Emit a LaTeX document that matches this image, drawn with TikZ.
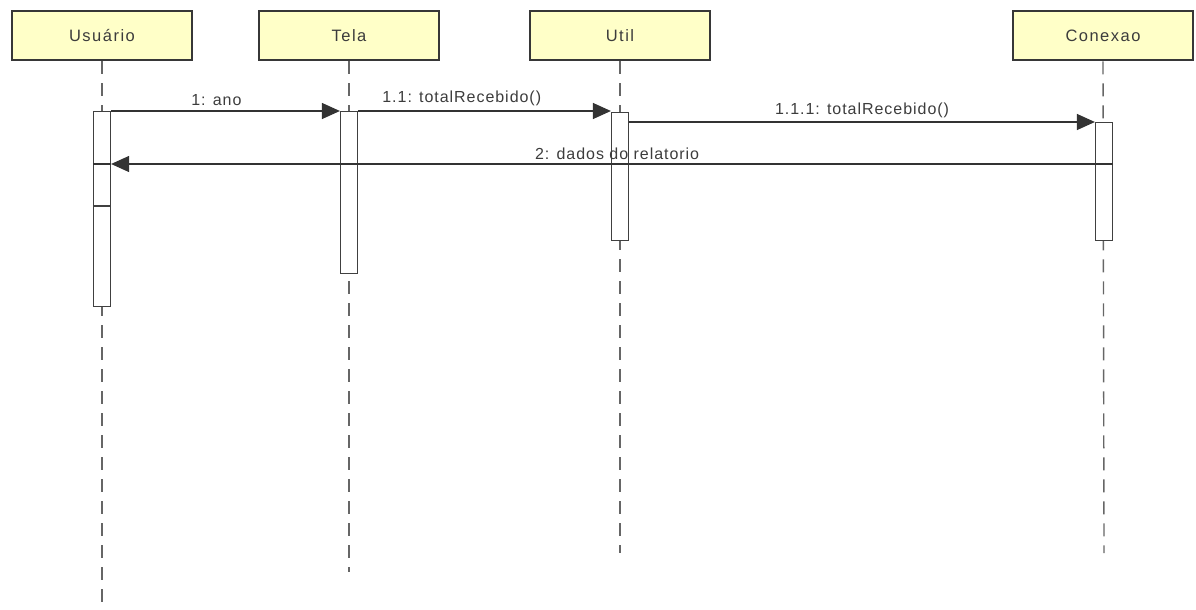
\documentclass[tikz,border=0pt]{standalone}
\usepackage{fontspec}
\setmainfont{Liberation Sans}
\newfontfamily\headfont[LetterSpace=9]{Liberation Sans}
\newfontfamily\msgfont[LetterSpace=6]{Liberation Sans}
\usepackage{xcolor}
\definecolor{headFill}{RGB}{255, 255, 200}
\definecolor{headLine}{RGB}{55, 55, 55}
\definecolor{txtColor}{RGB}{60, 60, 60}
\usepackage{tikz}
\usetikzlibrary{arrows.meta, positioning, calc}

\begin{document}
\begin{tikzpicture}[x=1pt, y=-1pt,
    head/.style={draw=headLine, line width=2.6pt, fill=headFill, minimum width=180pt,
      minimum height=49pt, font=\headfont\fontsize{16.5}{19}\selectfont, text=txtColor},
    life/.style={gray!80!black, line width=1.4pt, dash pattern=on 13pt off 9pt},
    actbar/.style={draw=black!75, line width=1.2pt, fill=white, minimum width=17pt, inner sep=0pt, anchor=north},
    msg/.style={black!80, line width=1.2pt, -{Triangle[length=18pt, width=16pt]}},
    lbl/.style={font=\msgfont\fontsize{16}{18}\selectfont, text=txtColor, inner sep=2pt}]
    \useasboundingbox (0,0) rectangle (1196,610);
    % lifeline heads
    \node[head] (usr) at (102,35.5) {Usuário};
    \node[head] (tela) at (349,35.5) {Tela};
    \node[head] (util) at (620,35.5) {Util};
    \node[head] (cnx) at (1103,35.5) {Conexao};
    % lifelines
    \draw[life] (usr.south) -- (102,606);
    \draw[life] (tela.south) -- (349,572);
    \draw[life] (util.south) -- (620,553);
    \draw[life] (cnx.south) -- (1104,553);
    % activation bars
    \node[actbar, minimum height=195pt] (usrbar) at (102,111) {};
    \node[actbar, minimum height=162pt] (telabar) at (349,111) {};
    \node[actbar, minimum height=128pt] (utilbar) at (620,112) {};
    \node[actbar, minimum height=118pt] (cnxbar) at (1104,122) {};
    \draw[black!75, line width=1.2pt] (usrbar.west |- 0,206) -- (usrbar.east |- 0,206);
    \draw[black!80, line width=2pt] (cnxbar.west |- 0,164) -- (cnxbar.east |- 0,164);
    \draw[black!80, line width=1.2pt] (usrbar.west |- 0,164) -- (usrbar.east |- 0,164);
    % messages
    \draw[msg] (usrbar.north east) -- (telabar.north west)
      node[lbl, above=3pt, pos=0.46] {1: ano};
    \draw[msg] (telabar.north east) -- (telabar.north east -| utilbar.west)
      node[lbl, above=3pt, pos=0.41] {1.1: totalRecebido()};
    \draw[msg] (utilbar.east |- cnxbar.north) -- (cnxbar.north west)
      node[lbl, above=2pt, midway] {1.1.1: totalRecebido()};
    \draw[msg] (cnxbar.east |- 0,164) -- (usrbar.east |- 0,164)
      node[lbl, above=2pt, pos=0.495] {2: dados do relatorio};
\end{tikzpicture}
\end{document}
